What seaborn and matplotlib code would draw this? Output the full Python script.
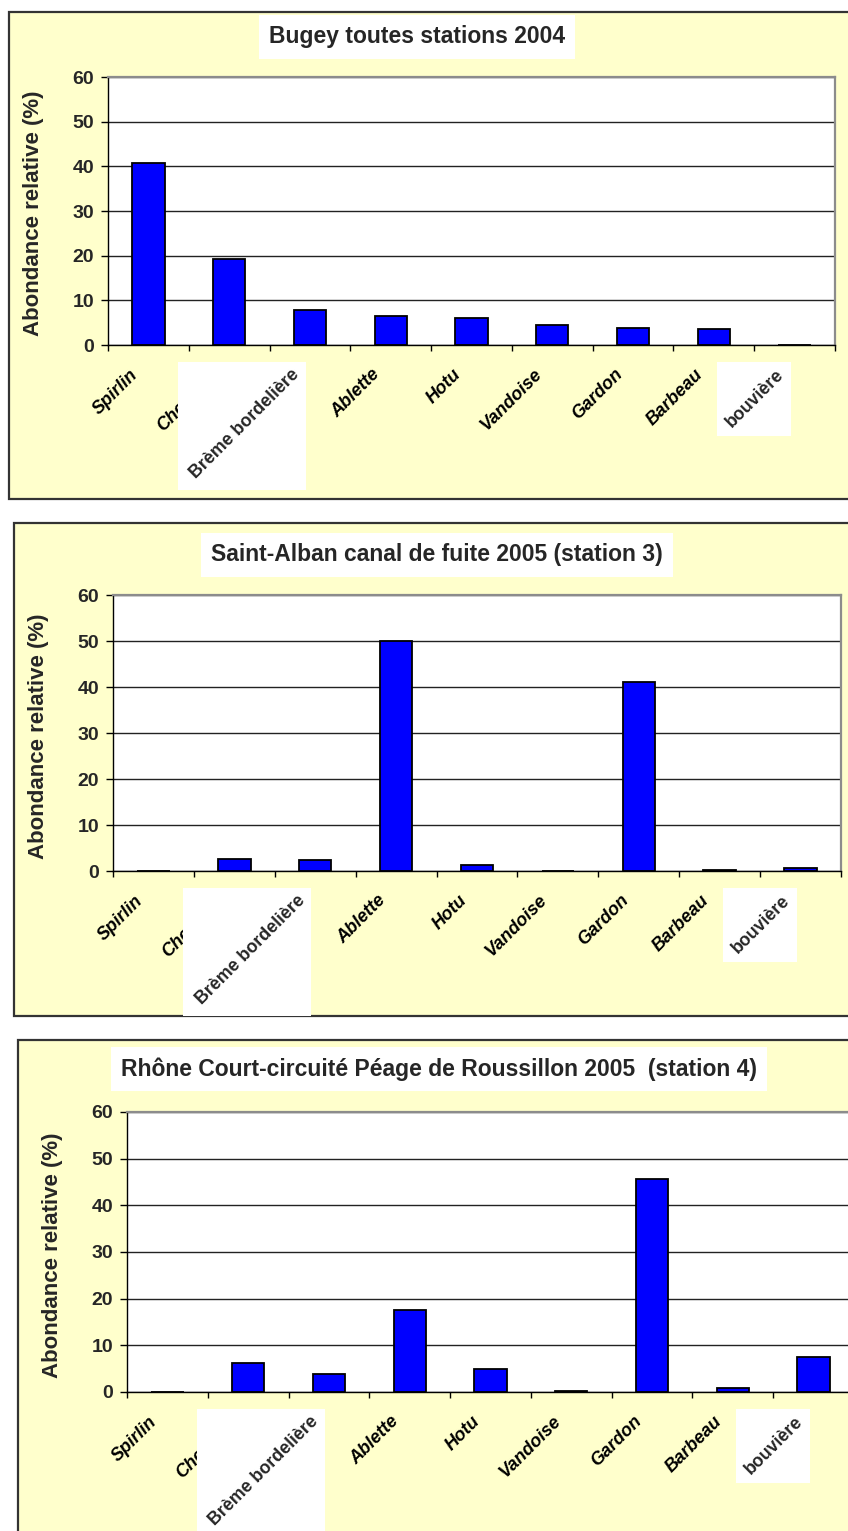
import numpy as np
import matplotlib
matplotlib.use("Agg")
import matplotlib.pyplot as plt
import seaborn as sns
from matplotlib.patches import Rectangle
from matplotlib.transforms import IdentityTransform

# ==========================
# Data
# ==========================

species = ["Spirlin", "Chevaine", "Brème bordelière", "Ablette", "Hotu",
           "Vandoise", "Gardon", "Barbeau", "bouvière"]

bugey_2004 = [40.7, 19.3, 7.9, 6.5, 6.0, 4.5, 3.9, 3.5, 0.0]
saint_alban_2005 = [0.0, 2.6, 2.4, 50.0, 1.3, 0.0, 41.0, 0.2, 0.6]
peage_2005 = [0.0, 6.3, 3.8, 17.5, 5.0, 0.2, 45.6, 0.9, 7.5]

titles = ["Bugey toutes stations 2004",
          "Saint-Alban canal de fuite 2005 (station 3)",
          "Rhône Court-circuité Péage de Roussillon 2005  (station 4)"]

ylabel = "Abondance relative (%)"
boxed_labels = [2, 8]   # labels pasted on a white patch

# ==========================
# Style
# ==========================

sns.set_style("white")
plt.rcParams["font.family"] = ["Liberation Sans", "DejaVu Sans"]

W, H = 848, 1531
fig = plt.figure(figsize=(W / 100, H / 100), dpi=100)
fig.patch.set_facecolor("white")


def fx(x):
    return x / W


def fy(y):
    return 1 - y / H


# frame (x0, y0, x1, y1), plot area (left, top, right, bottom), title centre
panels = [
    dict(values=bugey_2004, title=titles[0], frame=(9, 12, 880, 499),
         plot=(108, 77, 835, 345), title_xy=(417, 37)),
    dict(values=saint_alban_2005, title=titles[1], frame=(14, 523, 880, 1016),
         plot=(113, 595, 841, 871), title_xy=(437, 555)),
    dict(values=peage_2005, title=titles[2], frame=(18, 1040, 880, 1560),
         plot=(127, 1112, 854, 1392), title_xy=(439, 1069)),
]

for p in panels:
    x0, y0, x1, y1 = p["frame"]
    fig.add_artist(Rectangle((fx(x0), fy(y1)), (x1 - x0) / W, (y1 - y0) / H,
                             transform=fig.transFigure, facecolor="#FFFFCC",
                             edgecolor="#333333", linewidth=1.6, zorder=-1))

    fig.text(fx(p["title_xy"][0]), fy(p["title_xy"][1]), p["title"],
             ha="center", va="center", fontsize=16.5, fontweight="bold",
             bbox=dict(facecolor="white", edgecolor="none",
                       boxstyle="square,pad=0.45"))

    left, top, right, bottom = p["plot"]
    ax = fig.add_axes([fx(left), fy(bottom), (right - left) / W, (bottom - top) / H])

    sns.barplot(x=species, y=p["values"], color="#0000FF", saturation=1,
                edgecolor="black", linewidth=1.3, width=0.4, ax=ax)

    ax.set_facecolor("white")
    ax.set_xlim(-0.5, 8.5)
    ax.set_ylim(0, 60)
    ax.set_yticks(range(0, 61, 10))
    ax.yaxis.grid(True, color="#222222", linewidth=1)
    ax.xaxis.grid(False)
    ax.set_axisbelow(True)
    ax.set_xlabel("")

    ax.set_xticks(range(len(species)))
    ax.set_xticklabels([])
    ax.set_xticks(np.arange(-0.5, len(species)), minor=True)
    ax.tick_params(axis="x", which="major", length=0)
    ax.tick_params(axis="x", which="minor", length=4.5, width=1,
                   direction="out", color="black", bottom=True)
    ax.tick_params(axis="y", length=5, width=1, direction="out", color="black",
                   left=True, pad=5, labelsize=14)
    for t in ax.get_yticklabels():
        t.set_fontweight("bold")

    for side in ["top", "right"]:
        ax.spines[side].set_color("#8c8c8c")
        ax.spines[side].set_linewidth(1.6)
    for side in ["left", "bottom"]:
        ax.spines[side].set_color("black")
        ax.spines[side].set_linewidth(1)

    ax.set_ylabel(ylabel, fontsize=16, fontweight="bold")
    ax.yaxis.set_label_coords(-64 / (right - left), 0.49)

    # category labels
    for i, name in enumerate(species):
        boxed = i in boxed_labels
        if boxed:
            cx, cy = ax.transData.transform((i, 0))
            bw = 128 if i == 2 else 74
            bh = 128 if i == 2 else 74
            ax.add_artist(Rectangle((cx - 4 - bw, cy - 17 - bh), bw, bh,
                                    transform=IdentityTransform(),
                                    facecolor="white", edgecolor="none",
                                    clip_on=False, zorder=5))
        ax.annotate(name, xy=(i, 0), xycoords="data",
                    xytext=(-13, -27), textcoords="offset pixels",
                    rotation=45, rotation_mode="anchor", ha="right", va="center",
                    fontsize=12.8 if boxed else 13, fontweight="bold",
                    fontstyle="normal" if boxed else "italic",
                    color="#262626" if boxed else "black",
                    annotation_clip=False, zorder=6 if boxed else 3)

plt.savefig("out.png", dpi=100)
